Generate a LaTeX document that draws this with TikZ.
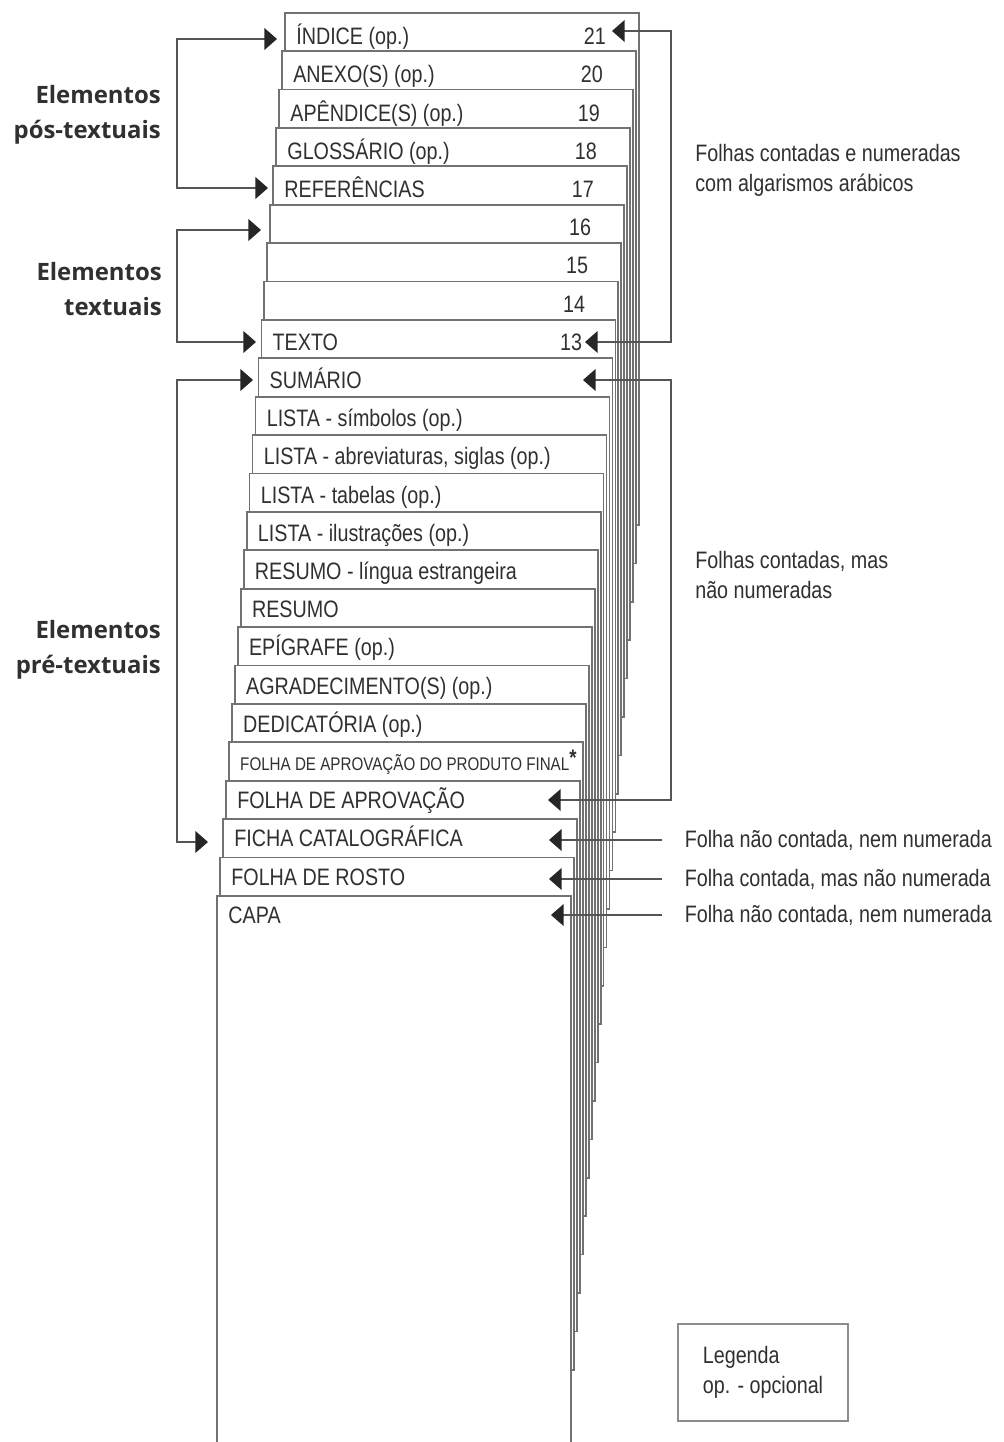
\documentclass[tikz,border=0pt]{standalone}
\usepackage{fontspec}
\setmainfont{Liberation Sans}[FakeStretch=0.83]
\newfontfamily\elfont{Open Sans}
\usepackage{tikz}
\usetikzlibrary{arrows.meta,positioning}
\definecolor{ink}{HTML}{303030}
\definecolor{edge}{HTML}{727272}
\definecolor{wire}{HTML}{555555}
\definecolor{head}{HTML}{262626}
\newcommand\prodfinal{{\fontsize{13}{15}\selectfont FOLHA DE APROVAÇÃO DO PRODUTO FINAL\raisebox{0.3em}{\fontsize{16}{16}\selectfont\bfseries *}}}

\begin{document}
\begin{tikzpicture}[x=0.025cm, y=-0.025cm,
  sheet/.style={draw=edge, fill=white, line width=1.25pt},
  lbl/.style={inner sep=0pt, text=ink, font=\fontsize{16.9}{20}\selectfont},
  rtxt/.style={inner sep=0pt, text=ink, align=left, font=\fontsize{16.9}{21.3}\selectfont},
  elab/.style={inner sep=0pt, text=ink, align=right, font=\elfont\bfseries\fontsize{17}{24.9}\selectfont},
  arr/.style={draw=wire, line width=1pt, -{Triangle[length=9pt,width=15.5pt,color=head]}},
  arrs/.style={draw=wire, line width=1pt, {Triangle[length=9pt,width=15.5pt,color=head]}-{Triangle[length=9pt,width=15.5pt,color=head]}},
  legbox/.style={draw=black!45, line width=0.8pt, minimum width=120.9pt, minimum height=69pt,
    align=left, text=ink, font=\fontsize{16.9}{21.3}\selectfont}]
\useasboundingbox (0,0) rectangle (1004,1442);
\clip (0,0) rectangle (1004,1442);
\fill[white] (0,0) rectangle (1004,1442);

\foreach \lab/\num [count=\i from 0] in {ÍNDICE (op.)/21, ANEXO(S) (op.)/20, APÊNDICE(S) (op.)/19,
    GLOSSÁRIO (op.)/18, REFERÊNCIAS/17, /16, /15, /14, TEXTO/13, SUMÁRIO/,
    LISTA - símbolos (op.)/, LISTA - abreviaturas{,} siglas (op.)/, LISTA - tabelas (op.)/,
    LISTA - ilustrações (op.)/, RESUMO - língua estrangeira/, RESUMO/, EPÍGRAFE (op.)/,
    AGRADECIMENTO(S) (op.)/, DEDICATÓRIA (op.)/, \prodfinal/, FOLHA DE APROVAÇÃO/,
    FICHA CATALOGRÁFICA/, FOLHA DE ROSTO/, CAPA/}
{
  \pgfmathsetmacro\xl{285-2.95*\i}
  \pgfmathsetmacro\xr{639-2.95*\i}
  \pgfmathsetmacro\yt{12.7+38.4*\i}
  \pgfmathsetmacro\yb{\i==23 ? 1470 : 525+38.4*\i}
  \draw[sheet] (\xl,\yt) rectangle (\xr,\yb);
  \node[lbl, anchor=base west] (lab\i) at (\xl+11, \yt+32-0.2*\i) {\lab};
  \node[lbl, anchor=base east] (num\i) at (\xr-33, \yt+32-0.2*\i) {\num};
}

\coordinate (lx) at (177,0);
\coordinate (rx) at (671,0);

\coordinate (posA) at (277,39);
\coordinate (posB) at (268,188);
\coordinate (txtA) at (261,230);
\coordinate (txtB) at (256,342);
\coordinate (preA) at (253,380);
\coordinate (preB) at (208,842);

\draw[arrs] (posA) -- (posA -| lx) -- (posB -| lx) -- (posB);
\draw[arrs] (txtA) -- (txtA -| lx) -- (txtB -| lx) -- (txtB);
\draw[arrs] (preA) -- (preA -| lx) -- (preB -| lx) -- (preB);

\node[elab, anchor=east] (elpos) at (161,115) {Elementos\\pós-textuais};
\node[elab, anchor=east] (eltxt) at (162,289) {Elementos\\textuais};
\node[elab, anchor=east] (elpre) at (161,650) {Elementos\\pré-textuais};

\coordinate (numA) at (612,31);
\coordinate (numB) at (585,342);
\coordinate (conA) at (583,380);
\coordinate (conB) at (548,800);

\draw[arrs] (numA) -- (numA -| rx) -- (numB -| rx) -- (numB);
\draw[arrs] (conA) -- (conA -| rx) -- (conB -| rx) -- (conB);

\node[rtxt, anchor=west] (numtxt) at (695,170) {Folhas contadas e numeradas\\com algarismos arábicos};
\node[rtxt, anchor=west] (contxt) at (695,575) {Folhas contadas, mas\\não numeradas};

\coordinate (ficha) at (549,840);
\coordinate (rosto) at (549,879);
\coordinate (capa) at (551,915);
\coordinate (ficha-s) at (662,840);
\coordinate (rosto-s) at (662,879);
\coordinate (capa-s) at (662,915);

\draw[arr] (ficha-s) -- (ficha);
\draw[arr] (rosto-s) -- (rosto);
\draw[arr] (capa-s) -- (capa);

\node[rtxt, right=16pt of ficha-s] (ficha-t) {Folha não contada, nem numerada};
\node[rtxt, right=16pt of rosto-s] (rosto-t) {Folha contada, mas não numerada};
\node[rtxt, right=16pt of capa-s] (capa-t) {Folha não contada, nem numerada};

\node[legbox] (leg) at (763,1372.5) {Legenda\\op. - opcional};
\end{tikzpicture}
\end{document}
